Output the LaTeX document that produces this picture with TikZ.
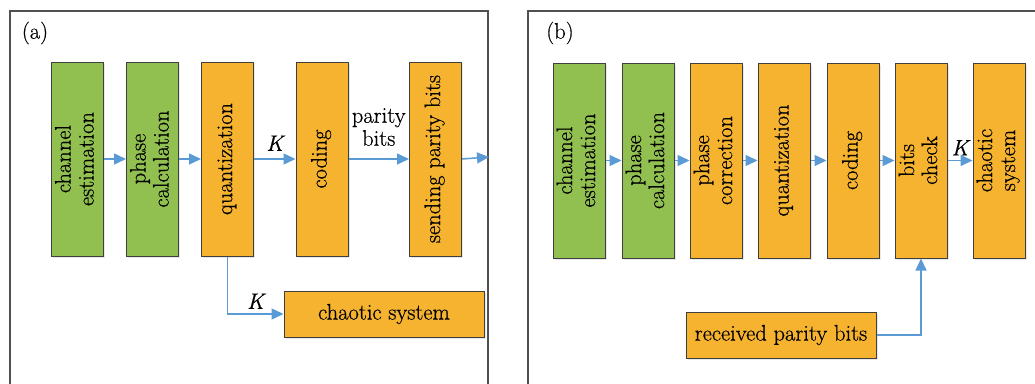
\documentclass[tikz,border=0pt]{standalone}
\usepackage{graphicx}
\usepackage{fontspec}
\newfontfamily\heavy{Latin Modern Roman}[FakeBold=0.5]
\usetikzlibrary{arrows.meta,shadows}
\definecolor{gfill}{HTML}{92C050}
\definecolor{ofill}{HTML}{F5B330}
\definecolor{bord}{HTML}{3F3F3F}
\definecolor{arr}{HTML}{5B9BD5}
\definecolor{frm}{HTML}{505050}
\newcommand\vt[1]{\rotatebox{90}{\begin{tabular}{@{}c@{}}#1\end{tabular}}}
\begin{document}
\begin{tikzpicture}[x=1pt,y=-1pt,
 every node/.style={font=\heavy\fontsize{22.5}{23}\selectfont},
 klab/.style={font=\heavy\itshape\fontsize{22.5}{23}\selectfont},
 blk/.style={draw=bord, line width=1pt, inner sep=0pt, minimum width=52pt,
   drop shadow={opacity=0.18,shadow xshift=1.5pt,shadow yshift=-1.5pt}},
 gb/.style={blk, minimum height=194pt, fill=gfill},
 ob/.style={blk, minimum height=194pt, fill=ofill},
 flow/.style={draw=arr, line width=1.5pt, -{Triangle[length=12pt,width=11pt]}},
 frame/.style={draw=frm, line width=1.3pt}]
\useasboundingbox (0,0) rectangle (1035,383);
\fill[white] (0,0) rectangle (1035,383);
\draw[frame] (10,386) -- (10,11) -- (488,11) -- (488,386);
\draw[frame] (528,386) -- (528,11) -- (1038,11);
% panel (a)
\node (la) at (35,33) {(a)};
\node[gb] (a1) at (77.5,159) {\vt{channel\\estimation}};
\node[gb] (a2) at (152.5,159) {\vt{phase\\calculation}};
\node[ob] (a3) at (227.5,159) {\vt{quantization}};
\node[ob] (a4) at (322,159) {\vt{coding}};
\node[ob] (a5) at (435.5,159) {\vt{sending parity bits}};
\node[blk, fill=ofill, minimum width=200pt, minimum height=46pt] (a6) at (384,314) {chaotic system};
\coordinate (aout) at (489,157);
\draw[flow] (a1) -- (a2);
\draw[flow] (a2) -- (a3);
\draw[flow] (a3) -- node[klab, above=4pt] {K} (a4);
\draw[flow] (a4) -- node[above=9pt, align=center] {parity\\bits} (a5);
\draw[flow] (a5.east) -- (aout);
\draw[flow] (a3.south) |- node[klab, pos=0.75, above=1pt] {K} (a6.west);
% panel (b)
\node (lb) at (560,33) {(b)};
\node[gb, minimum height=195pt] (b1) at (579,160.5) {\vt{channel\\estimation}};
\node[gb, minimum height=195pt] (b2) at (648,160.5) {\vt{phase\\calculation}};
\node[ob, minimum height=195pt] (b3) at (716,160.5) {\vt{phase\\correction}};
\node[ob, minimum height=195pt] (b4) at (784,160.5) {\vt{quantization}};
\node[ob, minimum height=195pt] (b5) at (853,160.5) {\vt{coding}};
\node[ob, minimum height=195pt] (b6) at (921,160.5) {\vt{bits\\check}};
\node[ob, minimum height=195pt] (b7) at (999,160.5) {\vt{chaotic\\system}};
\node[blk, fill=ofill, minimum width=190pt, minimum height=46pt] (b8) at (781,335) {received parity bits};
\draw[flow] (b1) -- (b2);
\draw[flow] (b2) -- (b3);
\draw[flow] (b3) -- (b4);
\draw[flow] (b4) -- (b5);
\draw[flow] (b5) -- (b6);
\draw[flow] (b6) -- node[klab, above=1pt] {K} (b7);
\draw[flow] (b8.east) -| (b6.south);
\end{tikzpicture}
\end{document}
